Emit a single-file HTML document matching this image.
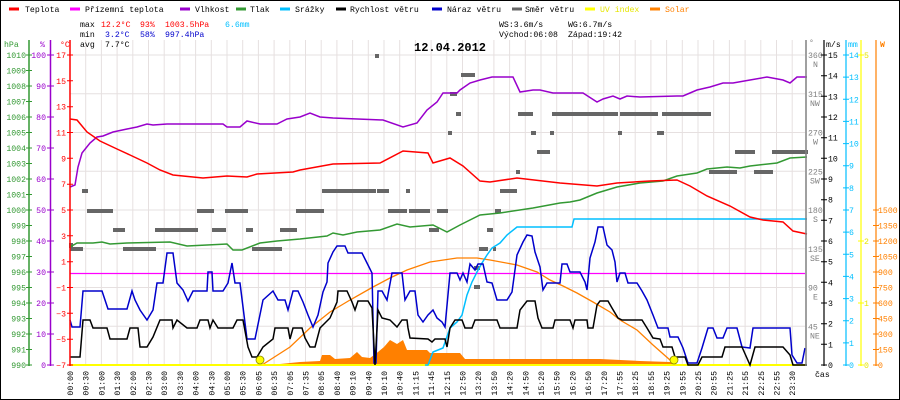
<!DOCTYPE html>
<html><head><meta charset="utf-8"><style>
html,body{margin:0;padding:0;background:#fff}
svg{display:block}
text{font-family:"Liberation Mono",monospace;font-size:8.2px}
</style></head><body>
<svg width="900" height="400" viewBox="0 0 900 400" xmlns="http://www.w3.org/2000/svg">
<rect x="0.5" y="0.5" width="899" height="399" fill="#fff" stroke="#000"/>
<g stroke="#e6e0e0" stroke-width="1">
<line x1="85.7" y1="40" x2="85.7" y2="365"/><line x1="101.4" y1="40" x2="101.4" y2="365"/><line x1="117.1" y1="40" x2="117.1" y2="365"/><line x1="132.8" y1="40" x2="132.8" y2="365"/><line x1="148.5" y1="40" x2="148.5" y2="365"/><line x1="164.2" y1="40" x2="164.2" y2="365"/><line x1="179.9" y1="40" x2="179.9" y2="365"/><line x1="195.6" y1="40" x2="195.6" y2="365"/><line x1="211.3" y1="40" x2="211.3" y2="365"/><line x1="227" y1="40" x2="227" y2="365"/><line x1="242.7" y1="40" x2="242.7" y2="365"/><line x1="258.4" y1="40" x2="258.4" y2="365"/><line x1="274.1" y1="40" x2="274.1" y2="365"/><line x1="289.8" y1="40" x2="289.8" y2="365"/><line x1="305.5" y1="40" x2="305.5" y2="365"/><line x1="321.2" y1="40" x2="321.2" y2="365"/><line x1="336.9" y1="40" x2="336.9" y2="365"/><line x1="352.6" y1="40" x2="352.6" y2="365"/><line x1="368.3" y1="40" x2="368.3" y2="365"/><line x1="384" y1="40" x2="384" y2="365"/><line x1="399.7" y1="40" x2="399.7" y2="365"/><line x1="415.4" y1="40" x2="415.4" y2="365"/><line x1="431.1" y1="40" x2="431.1" y2="365"/><line x1="446.8" y1="40" x2="446.8" y2="365"/><line x1="462.5" y1="40" x2="462.5" y2="365"/><line x1="478.2" y1="40" x2="478.2" y2="365"/><line x1="493.9" y1="40" x2="493.9" y2="365"/><line x1="509.6" y1="40" x2="509.6" y2="365"/><line x1="525.3" y1="40" x2="525.3" y2="365"/><line x1="541" y1="40" x2="541" y2="365"/><line x1="556.7" y1="40" x2="556.7" y2="365"/><line x1="572.4" y1="40" x2="572.4" y2="365"/><line x1="588.1" y1="40" x2="588.1" y2="365"/><line x1="603.8" y1="40" x2="603.8" y2="365"/><line x1="619.5" y1="40" x2="619.5" y2="365"/><line x1="635.2" y1="40" x2="635.2" y2="365"/><line x1="650.9" y1="40" x2="650.9" y2="365"/><line x1="666.6" y1="40" x2="666.6" y2="365"/><line x1="682.3" y1="40" x2="682.3" y2="365"/><line x1="698" y1="40" x2="698" y2="365"/><line x1="713.7" y1="40" x2="713.7" y2="365"/><line x1="729.4" y1="40" x2="729.4" y2="365"/><line x1="745.1" y1="40" x2="745.1" y2="365"/><line x1="760.8" y1="40" x2="760.8" y2="365"/><line x1="776.5" y1="40" x2="776.5" y2="365"/><line x1="792.2" y1="40" x2="792.2" y2="365"/>
<line x1="70" y1="55" x2="805" y2="55"/><line x1="70" y1="93.75" x2="805" y2="93.75"/><line x1="70" y1="132.5" x2="805" y2="132.5"/><line x1="70" y1="171.25" x2="805" y2="171.25"/><line x1="70" y1="210" x2="805" y2="210"/><line x1="70" y1="248.75" x2="805" y2="248.75"/><line x1="70" y1="287.5" x2="805" y2="287.5"/><line x1="70" y1="326.25" x2="805" y2="326.25"/>
</g>
<g fill="#666">
<rect x="82" y="189" width="6" height="4"/><rect x="87" y="209" width="26" height="4"/><rect x="197" y="209" width="17" height="4"/><rect x="225" y="209" width="23" height="4"/><rect x="296" y="209" width="12" height="4"/>
<rect x="113" y="228" width="12" height="4"/><rect x="155" y="228" width="43" height="4"/><rect x="212" y="228" width="14" height="4"/><rect x="246" y="228" width="7" height="4"/><rect x="280" y="228" width="17" height="4"/>
<rect x="70" y="247" width="13" height="4"/><rect x="123" y="247" width="33" height="4"/><rect x="252" y="247" width="30" height="4"/><rect x="69" y="243" width="4" height="5"/>
<rect x="375" y="54" width="4" height="4"/><rect x="461" y="73" width="14" height="4"/><rect x="450" y="92" width="7" height="4"/>
<rect x="456" y="112" width="5" height="4"/><rect x="518" y="112" width="15" height="4"/><rect x="552" y="112" width="66" height="4"/><rect x="620" y="112" width="38" height="4"/><rect x="662" y="112" width="49" height="4"/>
<rect x="448" y="131" width="4" height="4"/><rect x="531" y="131" width="5" height="4"/><rect x="550" y="131" width="4" height="4"/><rect x="618" y="131" width="4" height="4"/><rect x="657" y="131" width="7" height="4"/>
<rect x="537" y="150" width="13" height="4"/><rect x="735" y="150" width="20" height="4"/><rect x="772" y="150" width="36" height="4"/>
<rect x="516" y="170" width="4" height="4"/><rect x="709" y="170" width="28" height="4"/><rect x="754" y="170" width="19" height="4"/>
<rect x="322" y="189" width="54" height="4"/><rect x="377" y="189" width="12" height="4"/><rect x="406" y="189" width="4" height="4"/><rect x="500" y="189" width="17" height="4"/>
<rect x="300" y="209" width="24" height="4"/><rect x="388" y="209" width="19" height="4"/><rect x="409" y="209" width="21" height="4"/><rect x="437" y="209" width="11" height="4"/><rect x="495" y="209" width="6" height="4"/>
<rect x="429" y="228" width="10" height="4"/><rect x="487" y="228" width="6" height="4"/>
<rect x="479" y="247" width="9" height="4"/><rect x="493" y="247" width="3" height="4"/>
<rect x="474" y="266" width="6" height="4"/><rect x="474" y="285" width="6" height="4"/>
</g>
<polygon fill="#ff8000" points="262,365 280,364 300,362 320,361 322,355 330,355 335,359 350,358 357,352 362,357 370,358 378,352 384,347 390,340 397,344 403,340 407,350 427,350 430,353 460,353 465,359 600,359 640,361 670,362 675,365"/>
<line x1="70" y1="273.5" x2="805" y2="273.5" stroke="#ff00ff" stroke-width="1.2"/>
<polyline fill="none" stroke="#ff8000" stroke-width="1.3" points="262,365 290,347 310,328 330,312 350,300 373,287 390,278 407,270 430,262 457,258 477,258 490,260 517,265 537,272 550,280 563,286 577,293 593,302 610,312 620,320 637,330 653,345 670,360 674,364"/>
<line x1="70" y1="365" x2="805" y2="365" stroke="#ffff00" stroke-width="2"/>
<polyline fill="none" stroke="#00bfff" stroke-width="1.5" points="425,365 428,365 433,352 443,348 450,328 457,322 462,315 467,295 472,282 477,272 482,263 487,255 492,248 500,243 507,235 517,227 572,227 574,219 807,219"/>
<polyline fill="none" stroke="#339933" stroke-width="1.5" points="70,247 77,243 93,243 102,242 110,244 127,243 170,242 187,246 227,244 233,250 242,250 260,243 277,241 300,239 327,236 333,233 343,235 357,232 380,230 397,224 410,227 433,225 447,232 460,225 480,215 500,213 533,208 560,203 570,202 580,200 597,193 617,187 640,183 663,181 677,176 697,173 707,169 727,167 740,168 750,166 777,163 790,158 807,157"/>
<polyline fill="none" stroke="#9900cc" stroke-width="1.5" points="70,187 75,185 78,167 82,153 90,143 97,137 103,136 113,132 127,129 137,127 147,124 153,125 167,124 223,124 227,127 240,127 247,121 260,124 277,124 287,119 300,117 310,113 320,117 333,118 383,120 403,127 417,123 427,110 437,102 443,93 457,93 460,90 470,83 480,80 492,77 500,77 513,77 520,92 533,90 540,90 553,93 583,93 597,102 603,99 613,96 620,99 627,96 640,97 677,96 683,96 690,93 697,90 710,87 723,83 733,83 750,80 767,77 783,80 790,83 797,77 807,77"/>
<polyline fill="none" stroke="#ff0000" stroke-width="1.5" points="70,119 77,120 87,132 100,141 117,149 130,155 147,163 160,170 173,175 193,177 203,178 227,176 247,177 257,174 293,172 300,170 333,164 380,163 403,151 428,153 433,163 450,158 463,166 480,181 490,182 517,178 560,183 597,186 617,183 650,181 677,180 690,186 707,196 730,206 750,217 763,220 783,222 793,231 807,234"/>
<polyline fill="none" stroke="#0000cc" stroke-width="1.5" points="70,320 72,327 80,327 83,291 102,291 105,300 108,309 127,309 132,291 135,300 140,310 147,320 153,310 157,283 163,283 167,253 173,253 177,283 183,290 188,301 193,291 207,291 208,272 212,272 213,291 223,291 228,283 232,263 235,283 240,283 247,339 255,339 263,300 273,291 278,300 285,300 288,310 293,291 298,291 303,302 308,315 313,327 318,315 323,292 327,282 328,263 333,252 337,246 345,246 348,253 362,253 368,265 372,273 374,363 376,363 378,291 382,291 387,300 392,273 402,273 405,300 410,291 415,291 418,315 423,322 428,315 433,310 437,318 442,322 445,327 450,273 457,273 460,280 463,273 467,282 470,264 475,270 478,264 483,264 487,282 492,283 497,300 507,300 512,292 517,255 523,242 527,235 532,236 535,252 540,267 543,290 547,283 560,283 562,264 567,264 570,272 580,272 585,282 587,290 590,258 595,242 598,227 603,227 607,245 612,250 615,262 617,282 620,273 625,273 628,283 637,283 642,291 647,300 653,315 658,328 668,328 670,337 678,337 683,348 688,363 697,363 702,348 708,328 713,328 717,338 723,338 727,328 737,328 742,347 750,348 753,328 790,328 792,355 797,363 802,363 805,348"/>
<polyline fill="none" stroke="#000" stroke-width="1.5" points="70,357 80,357 83,320 90,320 93,328 107,328 110,339 127,339 130,328 138,328 140,347 147,347 153,337 160,320 172,320 173,328 177,320 187,328 197,328 200,320 208,320 210,328 213,320 218,328 233,328 237,320 243,320 248,347 252,357 257,357 263,347 273,339 275,328 288,328 290,339 293,328 302,328 305,338 310,347 315,347 320,328 330,318 337,302 338,291 347,291 352,302 355,310 358,301 368,301 372,308 375,365 378,310 382,318 390,320 397,327 402,320 407,320 408,328 410,338 428,339 432,342 435,339 445,339 447,347 450,328 455,320 462,320 465,328 472,328 475,320 497,320 500,328 517,328 520,310 527,301 535,301 538,318 542,328 553,328 555,320 570,320 573,328 575,320 587,320 588,328 593,328 597,305 600,301 608,301 612,308 618,318 622,320 642,320 647,328 653,338 660,339 663,347 672,347 675,357 685,357 688,365 698,365 702,357 722,357 725,347 742,347 750,365 755,347 783,347 790,355 793,365 807,365"/>
<circle cx="260" cy="360" r="4" fill="#ffff00" stroke="#888800" stroke-width="0.8"/>
<circle cx="674" cy="360" r="4" fill="#ffff00" stroke="#888800" stroke-width="0.8"/>
<line x1="29" y1="40" x2="29" y2="366" stroke="#339933" stroke-width="1.5"/>
<line x1="50.5" y1="40" x2="50.5" y2="366" stroke="#9900cc" stroke-width="1.5"/>
<line x1="70" y1="40" x2="70" y2="366" stroke="#ff0000" stroke-width="1.5"/>
<text x="4" y="47" fill="#339933">hPa</text><text x="40" y="47" fill="#9900cc">%</text><text x="60" y="47" fill="#ff0000">°C</text>
<g fill="#339933" text-anchor="end">
<text x="26" y="58">1010</text><text x="26" y="73.5">1009</text><text x="26" y="89">1008</text><text x="26" y="104.5">1007</text><text x="26" y="120">1006</text><text x="26" y="135.5">1005</text><text x="26" y="151">1004</text><text x="26" y="166.5">1003</text><text x="26" y="182">1002</text><text x="26" y="197.5">1001</text><text x="26" y="213">1000</text><text x="26" y="228.5">999</text><text x="26" y="244">998</text><text x="26" y="259.5">997</text><text x="26" y="275">996</text><text x="26" y="290.5">995</text><text x="26" y="306">994</text><text x="26" y="321.5">993</text><text x="26" y="337">992</text><text x="26" y="352.5">991</text><text x="26" y="368">990</text>
</g>
<g fill="#9900cc" text-anchor="end">
<text x="46" y="58">100</text><text x="46" y="89">90</text><text x="46" y="120">80</text><text x="46" y="151">70</text><text x="46" y="182">60</text><text x="46" y="213">50</text><text x="46" y="244">40</text><text x="46" y="275">30</text><text x="46" y="306">20</text><text x="46" y="337">10</text><text x="46" y="368">0</text>
</g>
<g fill="#ff0000" text-anchor="end">
<text x="66" y="58">17</text><text x="66" y="83.8">15</text><text x="66" y="109.7">13</text><text x="66" y="135.5">11</text><text x="66" y="161.3">9</text><text x="66" y="187.2">7</text><text x="66" y="213">5</text><text x="66" y="238.8">3</text><text x="66" y="264.7">1</text><text x="66" y="290.5">−1</text><text x="66" y="316.3">−3</text><text x="66" y="342.2">−5</text><text x="66" y="368">−7</text>
</g>
<line x1="806" y1="40" x2="806" y2="366" stroke="#808080" stroke-width="1.5"/>
<line x1="824" y1="40" x2="824" y2="366" stroke="#000" stroke-width="1.2"/>
<line x1="846" y1="40" x2="846" y2="366" stroke="#00bfff" stroke-width="1.2"/>
<line x1="861" y1="40" x2="861" y2="366" stroke="#ffff00" stroke-width="1.2"/>
<line x1="876" y1="40" x2="876" y2="366" stroke="#ff8000" stroke-width="1.2"/>
<text x="809" y="45" fill="#808080">°</text><text x="826" y="47" fill="#000">m/s</text><text x="848" y="47" fill="#00bfff">mm</text><text x="880" y="47" fill="#ff8000" style="font-weight:bold">W</text>
<g fill="#808080">
<text x="808" y="58">360</text><text x="813" y="67">N</text>
<text x="808" y="96.75">315</text><text x="810" y="105.75">NW</text>
<text x="808" y="135.5">270</text><text x="813" y="144.5">W</text>
<text x="808" y="174.25">225</text><text x="810" y="183.25">SW</text>
<text x="808" y="213">180</text><text x="813" y="222">S</text>
<text x="808" y="251.75">135</text><text x="810" y="260.75">SE</text>
<text x="808" y="290.5">90</text><text x="813" y="299.5">E</text>
<text x="808" y="329.25">45</text><text x="810" y="338.25">NE</text>
</g>
<g fill="#000"><text x="828" y="58">15</text><text x="828" y="78.7">14</text><text x="828" y="99.3">13</text><text x="828" y="120">12</text><text x="828" y="140.7">11</text><text x="828" y="161.3">10</text><text x="828" y="182">9</text><text x="828" y="202.7">8</text><text x="828" y="223.3">7</text><text x="828" y="244">6</text><text x="828" y="264.7">5</text><text x="828" y="285.3">4</text><text x="828" y="306">3</text><text x="828" y="326.7">2</text><text x="828" y="347.3">1</text><text x="828" y="368">0</text></g>
<g fill="#00bfff"><text x="849" y="58">14</text><text x="849" y="80.1">13</text><text x="849" y="102.3">12</text><text x="849" y="124.4">11</text><text x="849" y="146.6">10</text><text x="849" y="168.7">9</text><text x="849" y="190.9">8</text><text x="849" y="213">7</text><text x="849" y="235.1">6</text><text x="849" y="257.3">5</text><text x="849" y="279.4">4</text><text x="849" y="301.6">3</text><text x="849" y="323.7">2</text><text x="849" y="345.9">1</text><text x="849" y="368">0</text></g>
<g fill="#e6e600"><text x="864" y="58">5</text><text x="864" y="244">2</text><text x="864" y="306">1</text><text x="864" y="368">0</text></g>
<g fill="#ff8000"><text x="878" y="213">1500</text><text x="878" y="228.5">1350</text><text x="878" y="244">1200</text><text x="878" y="259.5">1050</text><text x="878" y="275">900</text><text x="878" y="290.5">750</text><text x="878" y="306">600</text><text x="878" y="321.5">450</text><text x="878" y="337">300</text><text x="878" y="352.5">150</text><text x="878" y="368">0</text></g>
<g stroke-width="1">
<path stroke="#339933" d="M26 55h6M26 70.5h6M26 86h6M26 101.5h6M26 117h6M26 132.5h6M26 148h6M26 163.5h6M26 179h6M26 194.5h6M26 210h6M26 225.5h6M26 241h6M26 256.5h6M26 272h6M26 287.5h6M26 303h6M26 318.5h6M26 334h6M26 349.5h6M26 365h6"/>
<path stroke="#9900cc" d="M47 55h7M47 86h7M47 117h7M47 148h7M47 179h7M47 210h7M47 241h7M47 272h7M47 303h7M47 334h7M47 365h7"/>
<path stroke="#ff0000" d="M67 55h6M67 80.8h6M67 106.7h6M67 132.5h6M67 158.3h6M67 184.2h6M67 210h6M67 235.8h6M67 261.7h6M67 287.5h6M67 313.3h6M67 339.2h6M67 365h6"/>
<path stroke="#000" d="M821 55h6M821 75.7h6M821 96.3h6M821 117h6M821 137.7h6M821 158.3h6M821 179h6M821 199.7h6M821 220.3h6M821 241h6M821 261.7h6M821 282.3h6M821 303h6M821 323.7h6M821 344.3h6M821 365h6"/>
<path stroke="#00bfff" d="M843 55h6M843 77.1h6M843 99.3h6M843 121.4h6M843 143.6h6M843 165.7h6M843 187.9h6M843 210h6M843 232.1h6M843 254.3h6M843 276.4h6M843 298.6h6M843 320.7h6M843 342.9h6M843 365h6"/>
<path stroke="#ffff00" d="M858 55h6M858 241h6M858 303h6M858 365h6"/>
<path stroke="#ff8000" d="M873 210h6M873 225.5h6M873 241h6M873 256.5h6M873 272h6M873 287.5h6M873 303h6M873 318.5h6M873 334h6M873 349.5h6M873 365h6"/>
</g>
<g stroke-width="3">
<line x1="9" y1="9" x2="19" y2="9" stroke="#ff0000"/><line x1="70" y1="9" x2="80" y2="9" stroke="#ff00ff"/><line x1="180" y1="9" x2="190" y2="9" stroke="#9900cc"/><line x1="236" y1="9" x2="246" y2="9" stroke="#339933"/><line x1="280" y1="9" x2="290" y2="9" stroke="#00bfff"/><line x1="336" y1="9" x2="346" y2="9" stroke="#000"/><line x1="432" y1="9" x2="442" y2="9" stroke="#0000cc"/><line x1="512" y1="9" x2="522" y2="9" stroke="#666"/><line x1="585" y1="9" x2="595" y2="9" stroke="#ffff00"/><line x1="650" y1="9" x2="660" y2="9" stroke="#ff8000"/>
</g>
<g fill="#000"><text x="25" y="12">Teplota</text><text x="85" y="12">Přízemní teplota</text><text x="195" y="12">Vlhkost</text><text x="250" y="12">Tlak</text><text x="295" y="12">Srážky</text><text x="350" y="12">Rychlost větru</text><text x="447" y="12">Náraz větru</text><text x="525" y="12">Směr větru</text><text x="600" y="12" fill="#e6e600">UV index</text><text x="665" y="12" fill="#ff8000">Solar</text></g>
<text x="80" y="27">max</text><text x="101" y="27" fill="#ff0000">12.2°C</text><text x="140" y="27" fill="#ff0000">93%</text><text x="165" y="27" fill="#ff0000">1003.5hPa</text><text x="225" y="27" fill="#00bfff">6.6mm</text>
<text x="80" y="37">min</text><text x="105" y="37" fill="#0000cc">3.2°C</text><text x="140" y="37" fill="#0000cc">58%</text><text x="165" y="37" fill="#0000cc">997.4hPa</text>
<text x="80" y="47">avg</text><text x="105" y="47">7.7°C</text>
<text x="499" y="27">WS:3.6m/s</text><text x="568" y="27">WG:6.7m/s</text>
<text x="499" y="37">Východ:06:08</text><text x="568" y="37">Západ:19:42</text>
<text x="414" y="51" style="font-size:12px;font-weight:bold">12.04.2012</text>
<text x="815" y="377" fill="#000">čas</text>
<g fill="#000" text-anchor="end">
<text transform="translate(73,371) rotate(-90)">00:00</text><text transform="translate(88.7,371) rotate(-90)">00:30</text><text transform="translate(104.4,371) rotate(-90)">01:00</text><text transform="translate(120.1,371) rotate(-90)">01:30</text><text transform="translate(135.8,371) rotate(-90)">02:00</text><text transform="translate(151.5,371) rotate(-90)">02:30</text><text transform="translate(167.2,371) rotate(-90)">03:00</text><text transform="translate(182.9,371) rotate(-90)">03:30</text><text transform="translate(198.6,371) rotate(-90)">04:00</text><text transform="translate(214.3,371) rotate(-90)">04:30</text><text transform="translate(230,371) rotate(-90)">05:00</text><text transform="translate(245.7,371) rotate(-90)">05:30</text><text transform="translate(261.4,371) rotate(-90)">06:05</text><text transform="translate(277.1,371) rotate(-90)">06:35</text><text transform="translate(292.8,371) rotate(-90)">07:05</text><text transform="translate(308.5,371) rotate(-90)">07:35</text><text transform="translate(324.2,371) rotate(-90)">08:05</text><text transform="translate(339.9,371) rotate(-90)">08:40</text><text transform="translate(355.6,371) rotate(-90)">09:10</text><text transform="translate(371.3,371) rotate(-90)">09:40</text><text transform="translate(387,371) rotate(-90)">10:10</text><text transform="translate(402.7,371) rotate(-90)">10:40</text><text transform="translate(418.4,371) rotate(-90)">11:15</text><text transform="translate(434.1,371) rotate(-90)">11:45</text><text transform="translate(449.8,371) rotate(-90)">12:15</text><text transform="translate(465.5,371) rotate(-90)">12:50</text><text transform="translate(481.2,371) rotate(-90)">13:20</text><text transform="translate(496.9,371) rotate(-90)">13:50</text><text transform="translate(512.6,371) rotate(-90)">14:20</text><text transform="translate(528.3,371) rotate(-90)">14:50</text><text transform="translate(544,371) rotate(-90)">15:20</text><text transform="translate(559.7,371) rotate(-90)">15:50</text><text transform="translate(575.4,371) rotate(-90)">16:20</text><text transform="translate(591.1,371) rotate(-90)">16:50</text><text transform="translate(606.8,371) rotate(-90)">17:20</text><text transform="translate(622.5,371) rotate(-90)">17:55</text><text transform="translate(638.2,371) rotate(-90)">18:25</text><text transform="translate(653.9,371) rotate(-90)">18:55</text><text transform="translate(669.6,371) rotate(-90)">19:25</text><text transform="translate(685.3,371) rotate(-90)">19:55</text><text transform="translate(701,371) rotate(-90)">20:25</text><text transform="translate(716.7,371) rotate(-90)">20:55</text><text transform="translate(732.4,371) rotate(-90)">21:25</text><text transform="translate(748.1,371) rotate(-90)">21:55</text><text transform="translate(763.8,371) rotate(-90)">22:25</text><text transform="translate(779.5,371) rotate(-90)">22:55</text><text transform="translate(795.2,371) rotate(-90)">23:30</text>
</g>
</svg>
</body></html>
